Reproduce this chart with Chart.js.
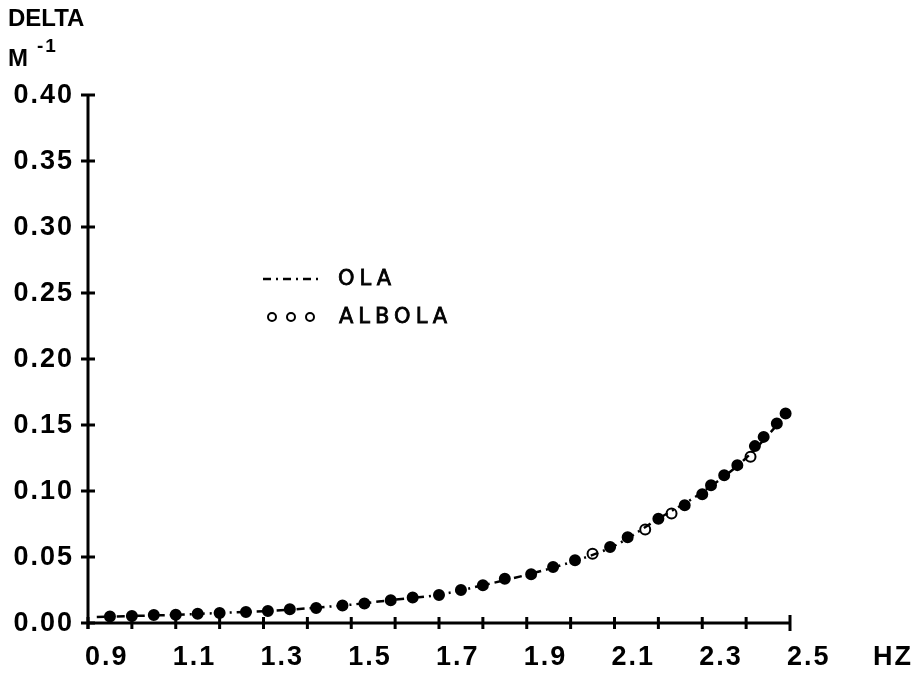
<!DOCTYPE html>
<html lang="es">
<head>
<meta charset="utf-8">
<title>DELTA - OLA / ALBOLA</title>
<script src="https://cdn.jsdelivr.net/npm/chart.js@4.4.1/dist/chart.umd.min.js"></script>
<style>
    html, body { margin: 0; padding: 0; background: #fff; }
    #grafico { display: block; }
</style>
</head>
<body>
<canvas id="grafico" width="917" height="679"></canvas>
<script>
    // Curva OLA (linea punto-raya)
    const olaHz    = [0.92, 1.0, 1.1, 1.2, 1.3, 1.4, 1.5, 1.6, 1.7, 1.8, 1.9, 2.0, 2.1, 2.2, 2.3, 2.4, 2.5];
    const olaDelta = [0.0045, 0.0053, 0.0062, 0.0076, 0.0089, 0.0111, 0.0139, 0.0177, 0.0214, 0.0286, 0.0365, 0.0460, 0.0585, 0.0790, 0.0990, 0.1250, 0.1610];

    // Puntos ALBOLA (circulos)
    const albolaHz    = [0.95, 1.00, 1.05, 1.10, 1.15, 1.20, 1.26, 1.31, 1.36, 1.42, 1.48, 1.53, 1.59, 1.64, 1.70, 1.75, 1.80, 1.85, 1.91, 1.96,
                         2.01, 2.05, 2.09, 2.13, 2.17, 2.20, 2.23, 2.26, 2.30, 2.32, 2.35, 2.38, 2.41, 2.42, 2.44, 2.47, 2.49];
    const albolaDelta = [0.0050, 0.0053, 0.0060, 0.0062, 0.0070, 0.0076, 0.0083, 0.0091, 0.0105, 0.0114, 0.0132, 0.0147, 0.0172, 0.0193, 0.0212, 0.0250, 0.0286, 0.0335, 0.0370, 0.0425,
                         0.0475, 0.0525, 0.0576, 0.0650, 0.0708, 0.0790, 0.0829, 0.0892, 0.0976, 0.1044, 0.1120, 0.1196, 0.1259, 0.1340, 0.1410, 0.1512, 0.1588];

    // Marcas de los ejes
    const xTicks  = [0.9, 1.0, 1.1, 1.2, 1.3, 1.4, 1.5, 1.6, 1.7, 1.8, 1.9, 2.0, 2.1, 2.2, 2.3, 2.4, 2.5];
    const xLabels = ['0.9', '1.1', '1.3', '1.5', '1.7', '1.9', '2.1', '2.3', '2.5'];
    const yLabels = ['0.00', '0.05', '0.10', '0.15', '0.20', '0.25', '0.30', '0.35', '0.40'];

    // puntos que en el original se ven huecos (el resto queda tapado por la linea)
    const albolaHuecos = [21, 24, 26, 32];

    const FUENTE = '"Liberation Sans", Arial, sans-serif';
    const PATRON = [8, 5, 2, 5];

    const ejesPlugin = {
        id: 'ejes',
        beforeDatasetsDraw(chart) {
            const ctx = chart.ctx;
            const sx = chart.scales.x, sy = chart.scales.y;
            const x0 = sx.getPixelForValue(0.9);
            const x1 = sx.getPixelForValue(2.5);
            const y0 = sy.getPixelForValue(0);
            const y1 = sy.getPixelForValue(0.4);

            ctx.save();
            ctx.strokeStyle = '#000';
            ctx.lineWidth = 3;
            ctx.lineCap = 'butt';

            // lineas de los ejes
            ctx.beginPath();
            ctx.moveTo(x0, y0); ctx.lineTo(x1, y0);
            ctx.moveTo(x0, y0 + 6); ctx.lineTo(x0, y1);
            ctx.stroke();

            // marcas x (cruzan el eje)
            ctx.beginPath();
            xTicks.forEach(v => {
                const px = sx.getPixelForValue(v);
                const h = v === 2.5 ? 8 : 6;
                ctx.moveTo(px, y0 - h); ctx.lineTo(px, y0 + h);
            });
            // marcas y
            yLabels.forEach(t => {
                const py = sy.getPixelForValue(parseFloat(t));
                ctx.moveTo(x0 - 7, py); ctx.lineTo(x0 + 7, py);
            });
            ctx.stroke();

            // textos de las marcas
            ctx.fillStyle = '#000';
            ctx.font = 'bold 27px ' + FUENTE;
            ctx.letterSpacing = '2px';
            ctx.textBaseline = 'middle';
            ctx.textAlign = 'left';
            xLabels.forEach(t => {
                ctx.fillText(t, sx.getPixelForValue(parseFloat(t)) - 3, y0 + 35);
            });
            ctx.fillText('HZ', 873, y0 + 35);
            ctx.textAlign = 'right';
            yLabels.forEach(t => {
                ctx.fillText(t, x0 - 14, sy.getPixelForValue(parseFloat(t)) + 1);
            });

            // titulo eje y
            ctx.textAlign = 'left';
            ctx.letterSpacing = '0px';
            ctx.font = 'bold 24px ' + FUENTE;
            ctx.fillText('DELTA', 8, 19);
            ctx.fillText('M', 8, 59);
            ctx.letterSpacing = '2px';
            ctx.font = 'bold 19px ' + FUENTE;
            ctx.fillText('-1', 37, 47);
            ctx.restore();
        },
        afterDraw(chart) {
            // leyenda dentro del area del grafico
            const ctx = chart.ctx;
            ctx.save();
            ctx.strokeStyle = '#000';
            ctx.lineWidth = 2.5;
            ctx.setLineDash(PATRON);
            ctx.beginPath();
            ctx.moveTo(263, 279); ctx.lineTo(318, 279);
            ctx.stroke();
            ctx.setLineDash([]);
            ctx.lineWidth = 2;
            [272, 291, 310].forEach(cx => {
                ctx.beginPath();
                ctx.arc(cx, 317, 4, 0, Math.PI * 2);
                ctx.stroke();
            });
            ctx.fillStyle = '#000';
            ctx.font = '21px "DejaVu Sans", sans-serif';
            ctx.letterSpacing = '5px';
            ctx.textBaseline = 'middle';
            ctx.textAlign = 'left';
            ctx.lineWidth = 0.8;
            [['OLA', 338, 280], ['ALBOLA', 339, 318]].forEach(([t, x, y]) => {
                ctx.fillText(t, x, y);
                ctx.strokeText(t, x, y);
            });
            ctx.restore();
        }
    };

    function crearGrafico() {
        const ctx = document.getElementById('grafico').getContext('2d');

        new Chart(ctx, {
            type: 'line',
            data: {
                datasets: [
                    {
                        label: 'OLA',
                        data: olaHz.map((h, i) => ({ x: h, y: olaDelta[i] })),
                        borderColor: '#000',
                        borderWidth: 2.5,
                        borderDash: PATRON,
                        cubicInterpolationMode: 'monotone',
                        pointRadius: 0,
                        fill: false,
                        clip: false
                    },
                    {
                        label: 'ALBOLA',
                        data: albolaHz.map((h, i) => ({ x: h, y: albolaDelta[i] })),
                        showLine: false,
                        pointRadius: 5,
                        pointBorderWidth: 2,
                        pointBorderColor: '#000',
                        pointBackgroundColor: c => albolaHuecos.includes(c.dataIndex) ? '#fff' : '#000',
                        clip: false
                    }
                ]
            },
            options: {
                responsive: false,
                animation: false,
                layout: { padding: { left: 88, right: 127, top: 95, bottom: 56 } },
                plugins: {
                    legend: { display: false },
                    tooltip: { enabled: false }
                },
                scales: {
                    x: { type: 'linear', display: false, min: 0.9, max: 2.5 },
                    y: { type: 'linear', display: false, min: 0, max: 0.4 }
                }
            },
            plugins: [ejesPlugin]
        });
    }

    document.addEventListener('DOMContentLoaded', crearGrafico);
</script>
</body>
</html>
